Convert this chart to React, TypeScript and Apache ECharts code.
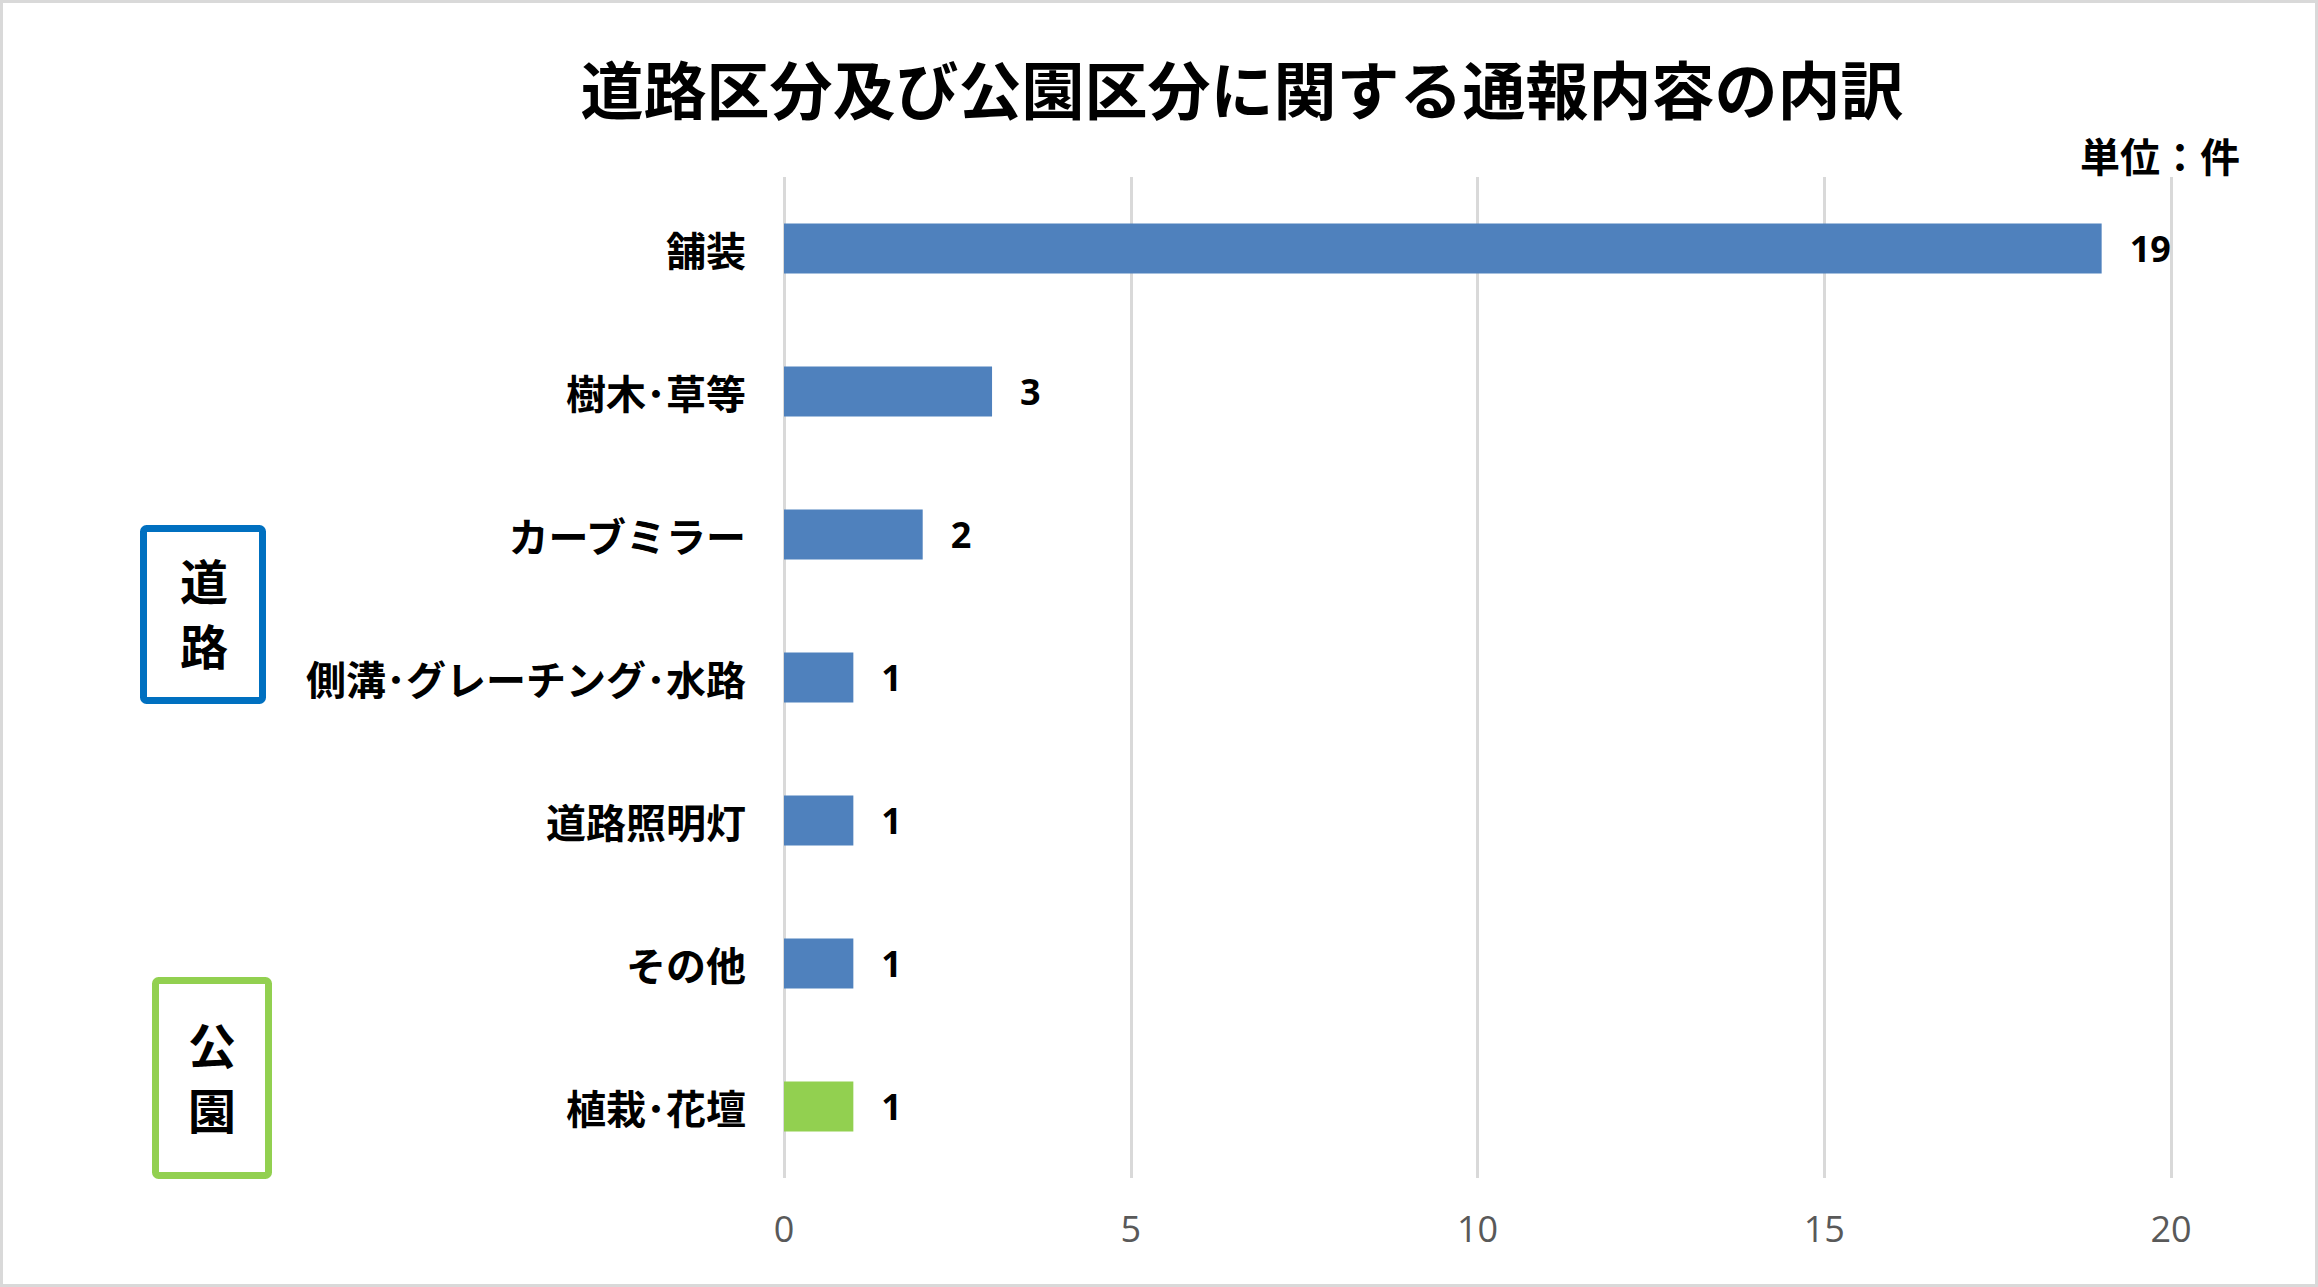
import React, { useEffect, useRef } from "react";
import * as echarts from "echarts";

const TITLE = "道路区分及び公園区分に関する通報内容の内訳";
const UNIT = "単位：件";
const categories = ["舗装", "樹木･草等", "カーブミラー", "側溝･グレーチング･水路", "道路照明灯", "その他", "植栽･花壇"];
const values = [19, 3, 2, 1, 1, 1, 1];
const groups = ["road", "road", "road", "road", "road", "road", "park"];
const groupColors: Record<string, string> = { road: "#4F81BD", park: "#92D050" };
const xTicks = { min: 0, max: 20, interval: 5 };

const JP = '"Noto Sans CJK JP", "Noto Sans", sans-serif';
const NUM = '"Open Sans", "Noto Sans", sans-serif';

export default function App() {
  const ref = useRef<HTMLDivElement>(null);
  useEffect(() => {
    document.body.style.margin = "0";
    const chart = echarts.init(ref.current!, null, { renderer: "svg" });
    chart.setOption({
      animation: false,
      backgroundColor: "#ffffff",
      grid: { left: 784, right: 147, top: 177, bottom: 109, containLabel: false },
      xAxis: {
        type: "value",
        min: xTicks.min,
        max: xTicks.max,
        interval: xTicks.interval,
        axisLine: { show: false },
        axisTick: { show: false },
        splitLine: { show: true, lineStyle: { color: "#D9D9D9", width: 3 } },
        axisLabel: { color: "#595959", fontSize: 36, fontFamily: NUM, margin: 32 },
      },
      yAxis: {
        type: "category",
        inverse: true,
        data: categories,
        axisLine: { show: false },
        axisTick: { show: false },
        axisLabel: {
          color: "#000000",
          fontSize: 40,
          fontWeight: "bold",
          fontFamily: JP,
          margin: 38,
          lineHeight: 40,
          padding: [0, 0, 10, 0],
        },
      },
      series: [
        {
          type: "bar",
          barWidth: 50,
          data: values.map((v, i) => ({ value: v, itemStyle: { color: groupColors[groups[i]] } })),
          label: {
            show: true,
            position: "right",
            distance: 28,
            color: "#000000",
            fontSize: 36,
            fontWeight: "bold",
            fontFamily: NUM,
          },
        },
      ],
      graphic: [
        {
          type: "rect",
          shape: { x: 1.5, y: 1.5, width: 2315, height: 1284 },
          style: { fill: "none", stroke: "#D9D9D9", lineWidth: 3 },
          silent: true,
        },
        {
          type: "text",
          x: 1242,
          y: 86,
          style: { text: TITLE, fill: "#000", font: `bold 63px ${JP}`, textAlign: "center", textVerticalAlign: "middle" },
        },
        {
          type: "text",
          x: 2240,
          y: 155,
          style: { text: UNIT, fill: "#000", font: `bold 40px ${JP}`, textAlign: "right", textVerticalAlign: "middle" },
        },
        {
          type: "rect",
          shape: { x: 143.5, y: 528.5, width: 119, height: 172, r: 3 },
          style: { fill: "#ffffff", stroke: "#0070C0", lineWidth: 7 },
        },
        {
          type: "text",
          x: 204,
          y: 579,
          style: { text: "道", fill: "#000", font: `bold 48px ${JP}`, textAlign: "center", textVerticalAlign: "middle" },
        },
        {
          type: "text",
          x: 204,
          y: 644,
          style: { text: "路", fill: "#000", font: `bold 48px ${JP}`, textAlign: "center", textVerticalAlign: "middle" },
        },
        {
          type: "rect",
          shape: { x: 155.5, y: 980.5, width: 113, height: 195, r: 3 },
          style: { fill: "#ffffff", stroke: "#92D050", lineWidth: 7 },
        },
        {
          type: "text",
          x: 212,
          y: 1043,
          style: { text: "公", fill: "#000", font: `bold 48px ${JP}`, textAlign: "center", textVerticalAlign: "middle" },
        },
        {
          type: "text",
          x: 212,
          y: 1108,
          style: { text: "園", fill: "#000", font: `bold 48px ${JP}`, textAlign: "center", textVerticalAlign: "middle" },
        },
      ],
    });
    return () => chart.dispose();
  }, []);
  return <div ref={ref} style={{ width: 2318, height: 1287 }} />;
}
